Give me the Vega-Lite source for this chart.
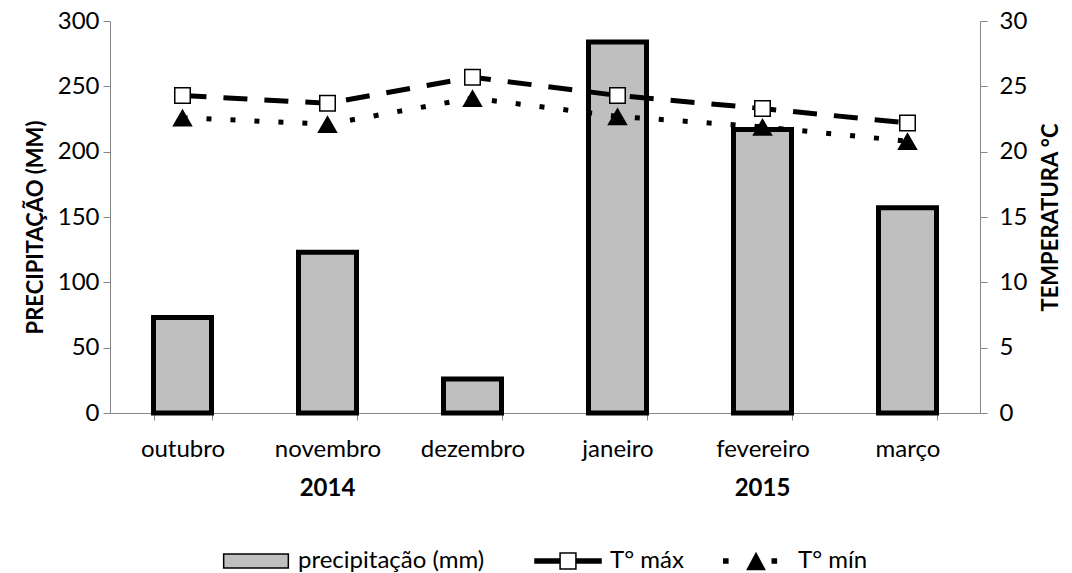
{
  "$schema": "https://vega.github.io/schema/vega-lite/v6.json",
  "width": 870,
  "height": 392,
  "autosize": "none",
  "padding": {"left": 110, "top": 21, "right": 92, "bottom": 160},
  "background": "white",
  "config": {
    "view": {"stroke": null},
    "font": "Lato",
    "axis": {"labelFont": "Lato", "labelFontSize": 24, "labelColor": "black", "titleFont": "Lato", "titleFontSize": 22, "titleColor": "black", "titleFontWeight": "bold", "domainColor": "#868686", "tickColor": "#868686", "grid": false},
    "legend": {"padding": 0, "labelFont": "Lato", "labelFontSize": 24, "labelColor": "black", "labelOffset": 8, "labelLimit": 0, "symbolSize": 4356, "titlePadding": 0}
  },
  "data": {"values": [
    {"mes": "outubro", "precip": 73, "tmax": 24.3, "tmin": 22.6},
    {"mes": "novembro", "precip": 123, "tmax": 23.7, "tmin": 22.1},
    {"mes": "dezembro", "precip": 26, "tmax": 25.7, "tmin": 24.1},
    {"mes": "janeiro", "precip": 284, "tmax": 24.3, "tmin": 22.7},
    {"mes": "fevereiro", "precip": 217, "tmax": 23.3, "tmin": 21.9},
    {"mes": "março", "precip": 157, "tmax": 22.2, "tmin": 20.8}
  ]},
  "layer": [
    {
      "mark": {"type": "bar", "stroke": "black", "strokeWidth": 5},
      "encoding": {
        "x": {"field": "mes", "type": "nominal", "sort": null,
          "scale": {"paddingInner": 0.6, "paddingOuter": 0.3},
          "axis": {"title": null, "labelAngle": 0, "tickBand": "extent", "tickSize": 7, "labelPadding": 17, "domainColor": "#868686"}},
        "y": {"field": "precip", "type": "quantitative",
          "scale": {"domain": [0, 300]},
          "axis": {"orient": "left", "title": "PRECIPITAÇÃO (MM)", "values": [0, 50, 100, 150, 200, 250, 300], "tickSize": 7, "labelPadding": 4, "titlePadding": 10, "titleY": 206}},
        "fill": {"datum": "precipitação (mm)", "type": "nominal",
          "scale": {"range": ["#bfbfbf"]},
          "legend": {"orient": "none", "legendX": 112, "legendY": 506, "title": null,
            "symbolType": "M-0.98,-0.21H0.98V0.21H-0.98Z",
            "encode": {"symbols": {"update": {"fill": {"value": "#bfbfbf"}, "stroke": {"value": "black"}, "strokeWidth": {"value": 1.5}}}}}}
      }
    },
    {
      "mark": {"type": "line", "color": "black", "strokeWidth": 5, "strokeDash": [24, 17]},
      "encoding": {
        "x": {"field": "mes", "type": "nominal", "sort": null,
          "axis": {"orient": "bottom", "title": null, "labelAngle": 0, "domain": false, "ticks": false, "tickSize": 0, "labelPadding": 63, "labelFontWeight": "bold",
            "labelExpr": "datum.value == 'novembro' ? '2014' : (datum.value == 'fevereiro' ? '2015' : '')"}},
        "y": {"field": "tmax", "type": "quantitative",
          "scale": {"domain": [0, 30]},
          "axis": {"orient": "right", "title": "TEMPERATURA °C", "values": [0, 5, 10, 15, 20, 25, 30], "tickSize": 7, "labelPadding": 12, "titlePadding": 14, "titleAngle": -90, "titleBaseline": "top"}}
      }
    },
    {
      "mark": {"type": "point", "shape": "square", "filled": true, "fill": "white", "stroke": "black", "strokeWidth": 1.5, "size": 240, "opacity": 1},
      "encoding": {
        "x": {"field": "mes", "type": "nominal", "sort": null, "axis": null},
        "y": {"field": "tmax", "type": "quantitative", "scale": {"domain": [0, 30]}, "axis": null},
        "opacity": {"datum": "T° máx", "type": "ordinal", "scale": {"range": [1]},
          "legend": {"orient": "none", "legendX": 424, "legendY": 506, "title": null,
            "symbolType": "M-1,-0.06H-0.24V-0.03H-1Z M-1,-0.015H-0.24V0.015H-1Z M-1,0.03H-0.24V0.06H-1Z M0.24,-0.06H1V-0.03H0.24Z M0.24,-0.015H1V0.015H0.24Z M0.24,0.03H1V0.06H0.24Z M-0.24,-0.24H0.24V0.24H-0.24Z"}}
      }
    },
    {
      "mark": {"type": "line", "color": "black", "strokeWidth": 5, "strokeDash": [5, 19]},
      "encoding": {
        "x": {"field": "mes", "type": "nominal", "sort": null, "axis": null},
        "y": {"field": "tmin", "type": "quantitative", "scale": {"domain": [0, 30]}, "axis": null}
      }
    },
    {
      "mark": {"type": "point", "shape": "triangle-up", "filled": true, "fill": "black", "strokeWidth": 0, "size": 420, "opacity": 1},
      "encoding": {
        "x": {"field": "mes", "type": "nominal", "sort": null, "axis": null},
        "y": {"field": "tmin", "type": "quantitative", "scale": {"domain": [0, 30]}, "axis": null},
        "opacity": {"datum": "T° mín", "type": "ordinal", "scale": {"range": [1]},
          "legend": {"orient": "none", "legendX": 612, "legendY": 506, "title": null,
            "symbolType": "M-1,-0.085H-0.83V0.085H-1Z M0.47,-0.085H0.64V0.085H0.47Z M0,-0.28L0.3,0.28H-0.3Z",
            "encode": {"symbols": {"update": {"fill": {"value": "black"}, "stroke": {"value": "transparent"}, "strokeWidth": {"value": 0}, "opacity": {"value": 1}}}}}}
      }
    }
  ],
  "resolve": {
    "scale": {"y": "independent", "opacity": "independent"},
    "axis": {"x": "independent"},
    "legend": {"opacity": "independent"}
  }
}
